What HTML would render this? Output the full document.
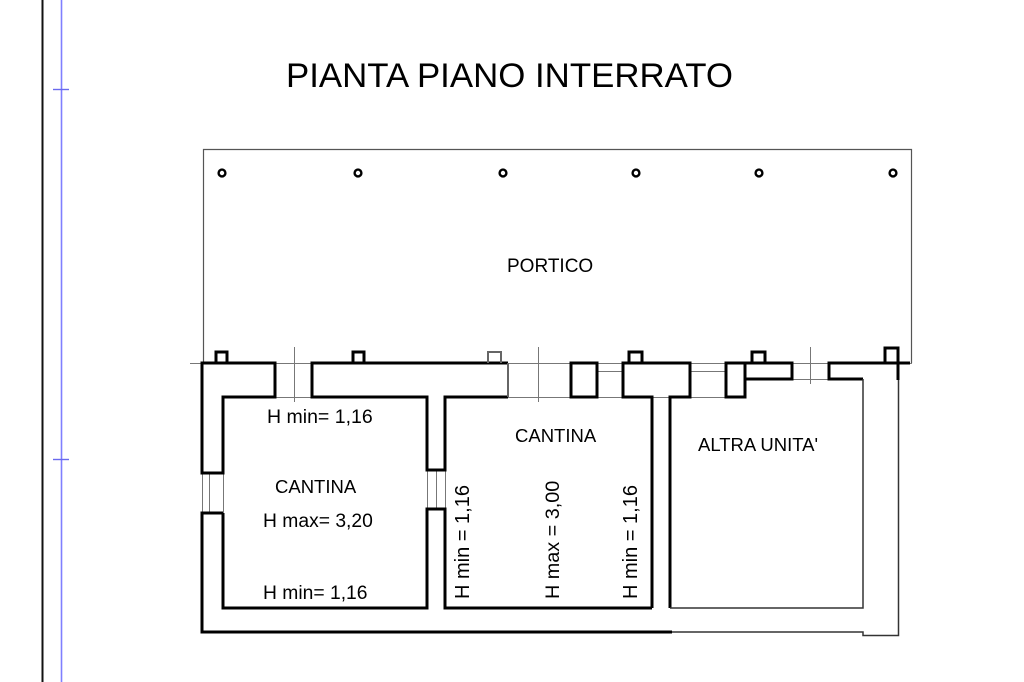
<!DOCTYPE html>
<html><head><meta charset="utf-8"><style>
html,body{margin:0;padding:0;background:#fff;}
svg{display:block;}
text{font-family:"Liberation Sans",Arial,sans-serif;fill:#000;}
</style></head><body>
<svg width="1024" height="682" viewBox="0 0 1024 682" xmlns="http://www.w3.org/2000/svg">
<rect width="1024" height="682" fill="#fff"/>
<!-- left border lines -->
<line x1="42.5" y1="0" x2="42.5" y2="682" stroke="#111" stroke-width="2"/>
<line x1="61.5" y1="0" x2="61.5" y2="682" stroke="#7f7fff" stroke-width="1.6"/>
<line x1="53" y1="89.5" x2="69" y2="89.5" stroke="#6a6aee" stroke-width="1.4"/>
<line x1="53" y1="459.5" x2="69" y2="459.5" stroke="#6a6aee" stroke-width="1.4"/>

<text x="286" y="87" font-size="34.5" textLength="447" lengthAdjust="spacingAndGlyphs">PIANTA PIANO INTERRATO</text>

<!-- portico outline -->
<polyline points="203.5,363 203.5,149.5 911.5,149.5 911.5,363" fill="none" stroke="#555" stroke-width="1.2"/>
<!-- columns -->
<g fill="none" stroke="#000" stroke-width="2.4">
<circle cx="222" cy="173" r="3.4"/>
<circle cx="358" cy="173" r="3.4"/>
<circle cx="503" cy="173" r="3.4"/>
<circle cx="636" cy="173" r="3.4"/>
<circle cx="759" cy="173" r="3.4"/>
<circle cx="893" cy="173" r="3.4"/>
</g>
<text x="507" y="272" font-size="19">PORTICO</text>

<!-- thin reference lines -->
<g stroke="#777" stroke-width="1" fill="none">
<line x1="190" y1="363.5" x2="912" y2="363.5"/>
<line x1="275" y1="397.5" x2="312" y2="397.5"/>
<line x1="508" y1="397.5" x2="745" y2="397.5"/>
<line x1="597" y1="371.5" x2="623" y2="371.5"/>
<line x1="690" y1="371.5" x2="726" y2="371.5"/>
<line x1="792" y1="379.5" x2="829" y2="379.5"/>
<line x1="294.5" y1="347" x2="294.5" y2="402"/>
<line x1="538.5" y1="347" x2="538.5" y2="402"/>
<line x1="810.5" y1="347" x2="810.5" y2="384"/>
<!-- doors -->
<line x1="202.5" y1="473" x2="202.5" y2="513"/>
<line x1="209.5" y1="473" x2="209.5" y2="513"/>
<line x1="223.5" y1="473" x2="223.5" y2="513"/>
<line x1="427.5" y1="470" x2="427.5" y2="509"/>
<line x1="436.5" y1="470" x2="436.5" y2="509"/>
<line x1="445.5" y1="470" x2="445.5" y2="509"/>
</g>

<!-- thick walls -->
<g fill="none" stroke="#000" stroke-width="3" stroke-linejoin="miter">
<polygon points="202,363 275,363 275,397 223,397 223,473 202,473"/>
<polyline points="216,363 216,352 227,352 227,363"/>
<polyline points="508,363 312,363 312,397 427,397 427,470 445,470 445,397 508,397"/>
<polyline points="353,363 353,352 364,352 364,363"/>
<rect x="571" y="363" width="26" height="34"/>
<polyline points="652,608 652,397 623,397 623,363 690,363 690,397 670,397 670,608"/>
<polyline points="629,363 629,352 642,352 642,363"/>
<rect x="726" y="363" width="19" height="34"/>
<rect x="745" y="363" width="47" height="16"/>
<polyline points="752,363 752,352 765,352 765,363"/>
<polyline points="863,379 829,379 829,363 910,363"/>
<polyline points="885,363 885,348 898,348 898,380"/>
<polyline points="223,513 202,513 202,632 672,632"/>
<polyline points="223,513 223,608 427,608 427,509 445,509 445,608 652,608"/>
</g>
<g fill="none" stroke="#666" stroke-width="2">
<polyline points="488,363 488,352 501,352 501,363"/>
<line x1="508" y1="363" x2="508" y2="397"/>
</g>
<g fill="none" stroke="#333" stroke-width="1.5">
<polyline points="670,608 863,608 863,379"/>
<polyline points="672,632 863,632 863,635.5 898.5,635.5 898.5,380"/>
</g>

<!-- labels -->
<text x="267" y="423" font-size="19.5">H min= 1,16</text>
<text x="275" y="493" font-size="18.5">CANTINA</text>
<text x="263" y="527" font-size="19.3">H max= 3,20</text>
<text x="263" y="599" font-size="19.3">H min= 1,16</text>
<text x="515" y="442" font-size="18.5">CANTINA</text>
<text x="698" y="451" font-size="18.5">ALTRA UNITA'</text>
<text transform="translate(469,599) rotate(-90)" font-size="20">H min = 1,16</text>
<text transform="translate(559,599) rotate(-90)" font-size="19.8">H max = 3,00</text>
<text transform="translate(637,599) rotate(-90)" font-size="20">H min = 1,16</text>
</svg>
</body></html>
